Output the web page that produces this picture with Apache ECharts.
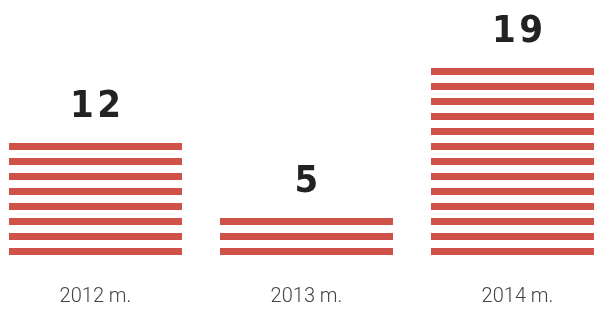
<!DOCTYPE html>
<html>
<head>
<meta charset="utf-8">
<script src="https://cdn.jsdelivr.net/npm/echarts@6/dist/echarts.min.js"></script>
<style>
  html, body { margin: 0; padding: 0; background: #fff; overflow: hidden; }
  #chart { position: absolute; left: -10px; top: 0; width: 633px; height: 329px; }
</style>
</head>
<body>
<div id="chart"></div>
<script>
// data
const years = ['2012 m.', '2013 m.', '2014 m.']
const values = [12, 5, 19]
const stripes = [8, 3, 13]   // number of red stripes drawn per bar

const stripeColor = '#cf5249'

const chart = echarts.init(document.getElementById('chart'))

const option = {
  animation: false,
  grid: { left: 0, right: 0, top: 53, bottom: 66, containLabel: false },
  xAxis: {
    type: 'category',
    data: years,
    axisLine: { show: false },
    axisTick: { show: false },
    axisLabel: {
      margin: 24,
      fontSize: 20,
      fontWeight: 300,
      fontFamily: 'Roboto',
      color: '#444'
    }
  },
  yAxis: { type: 'value', min: 0, max: 14, show: false },
  series: [
    {
      type: 'custom',
      clip: false,
      data: years.map((y, i) => [i, stripes[i], values[i]]),
      renderItem: (params, api) => {
        const i = api.value(0)
        const n = api.value(1)
        const base = api.coord([i, 0])
        const unit = api.size([0, 1])[1]
        const bw = api.size([1, 0])[0] * 0.82
        const children = []
        for (let k = 0; k < n; k++) {
          children.push({
            type: 'rect',
            shape: { x: base[0] - bw / 2, y: base[1] - unit * (k + 1), width: bw, height: unit * 7 / 15 },
            style: { fill: stripeColor }
          })
        }
        children.push({
          type: 'text',
          style: {
            text: String(api.value(2)).split('').join('\u200a'),
            x: base[0],
            y: base[1] - unit * n - 36,
            align: 'center',
            verticalAlign: 'middle',
            fontSize: 38,
            fontWeight: 'bold',
            fontFamily: '"Liberation Sans Narrow", "DejaVu Sans Condensed", sans-serif',
            fill: '#222'
          }
        })
        return { type: 'group', children }
      }
    }
  ]
}

chart.setOption(option)
</script>
</body>
</html>
